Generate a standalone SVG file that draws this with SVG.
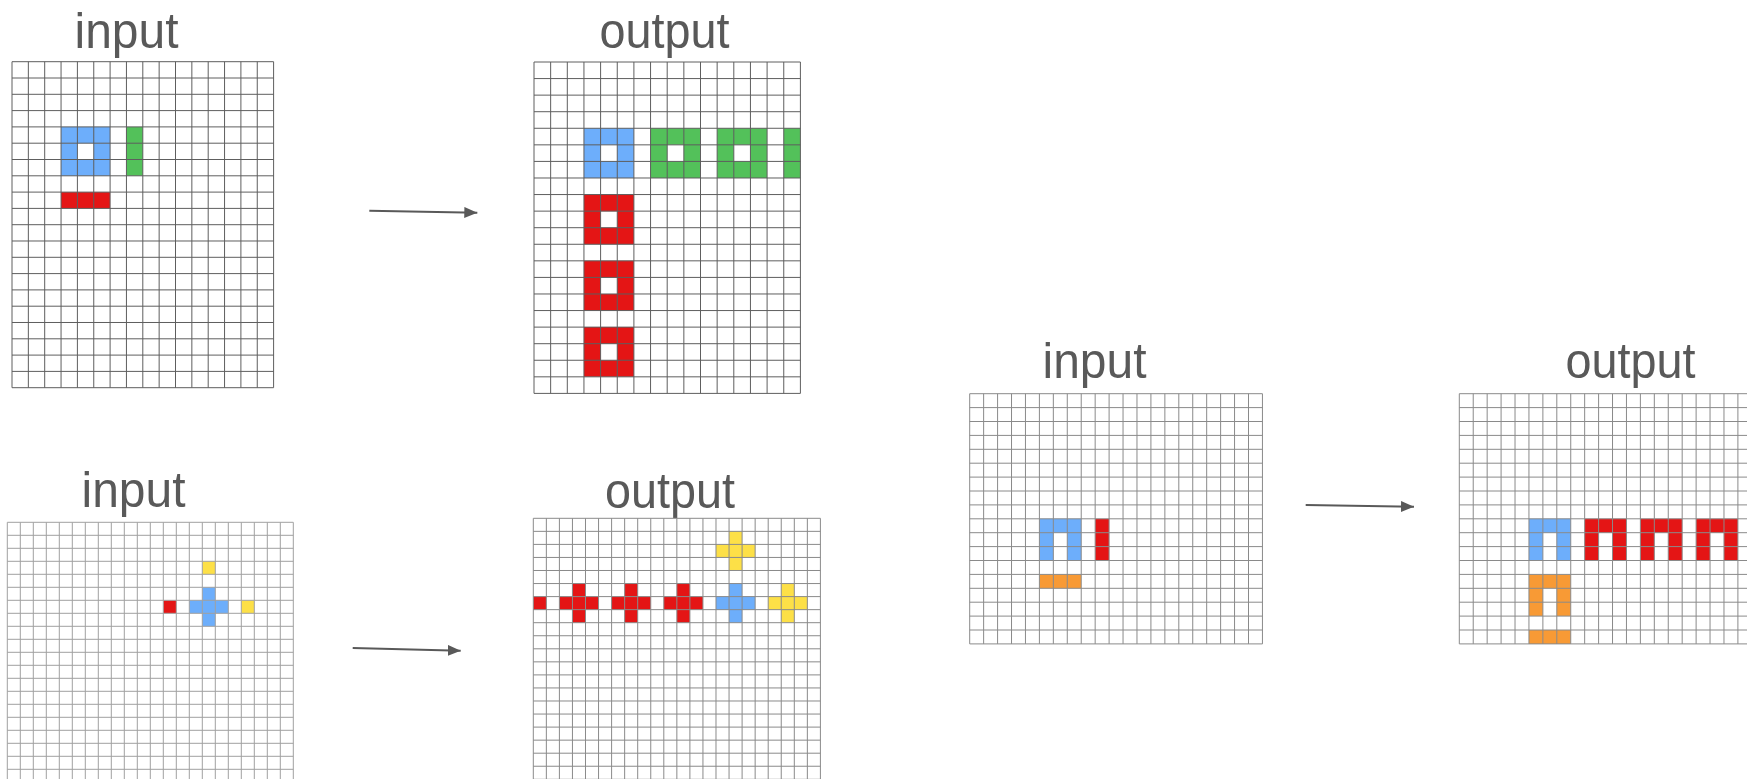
<svg xmlns="http://www.w3.org/2000/svg" xmlns:xlink="http://www.w3.org/1999/xlink" width="1747" height="779" viewBox="0 0 1747 779">
<style>
.bg{fill:#ffffff}
.lbl{font-family:"Liberation Sans",Arial,sans-serif;font-size:50px;fill:#595959}
.gp{fill:none;vector-effect:non-scaling-stroke}
.b{fill:#6daefb}
.g{fill:#53c15a}
.r{fill:#e41515}
.y{fill:#fde047}
.o{fill:#f89a35}
.arr{stroke:#595959;stroke-width:2;fill:none}
</style>
<defs>
<path id="g16x20" class="gp" d="M0 0V20M1 0V20M2 0V20M3 0V20M4 0V20M5 0V20M6 0V20M7 0V20M8 0V20M9 0V20M10 0V20M11 0V20M12 0V20M13 0V20M14 0V20M15 0V20M16 0V20M0 0H16M0 1H16M0 2H16M0 3H16M0 4H16M0 5H16M0 6H16M0 7H16M0 8H16M0 9H16M0 10H16M0 11H16M0 12H16M0 13H16M0 14H16M0 15H16M0 16H16M0 17H16M0 18H16M0 19H16M0 20H16"/>
<path id="g22x22" class="gp" d="M0 0V22M1 0V22M2 0V22M3 0V22M4 0V22M5 0V22M6 0V22M7 0V22M8 0V22M9 0V22M10 0V22M11 0V22M12 0V22M13 0V22M14 0V22M15 0V22M16 0V22M17 0V22M18 0V22M19 0V22M20 0V22M21 0V22M22 0V22M0 0H22M0 1H22M0 2H22M0 3H22M0 4H22M0 5H22M0 6H22M0 7H22M0 8H22M0 9H22M0 10H22M0 11H22M0 12H22M0 13H22M0 14H22M0 15H22M0 16H22M0 17H22M0 18H22M0 19H22M0 20H22M0 21H22M0 22H22"/>
<path id="g21x18" class="gp" d="M0 0V18M1 0V18M2 0V18M3 0V18M4 0V18M5 0V18M6 0V18M7 0V18M8 0V18M9 0V18M10 0V18M11 0V18M12 0V18M13 0V18M14 0V18M15 0V18M16 0V18M17 0V18M18 0V18M19 0V18M20 0V18M21 0V18M0 0H21M0 1H21M0 2H21M0 3H21M0 4H21M0 5H21M0 6H21M0 7H21M0 8H21M0 9H21M0 10H21M0 11H21M0 12H21M0 13H21M0 14H21M0 15H21M0 16H21M0 17H21M0 18H21"/>
<marker id="ah" markerUnits="userSpaceOnUse" markerWidth="15" markerHeight="13" refX="13" refY="5.5" orient="auto">
<path d="M0 0L13 5.5L0 11z" fill="#595959"/>
</marker>
</defs>
<rect width="1747" height="779" fill="#ffffff"/>

<g id="label-input-1"><text class="lbl" x="74.5" y="48" textLength="104" lengthAdjust="spacingAndGlyphs">input</text></g>
<g id="label-output-1"><text class="lbl" x="599.5" y="48" textLength="130" lengthAdjust="spacingAndGlyphs">output</text></g>
<g id="label-input-2"><text class="lbl" x="81.5" y="507" textLength="104" lengthAdjust="spacingAndGlyphs">input</text></g>
<g id="label-output-2"><text class="lbl" x="605" y="508" textLength="130" lengthAdjust="spacingAndGlyphs">output</text></g>
<g id="label-input-3"><text class="lbl" x="1042.5" y="378" textLength="104" lengthAdjust="spacingAndGlyphs">input</text></g>
<g id="label-output-3"><text class="lbl" x="1565.5" y="378" textLength="130" lengthAdjust="spacingAndGlyphs">output</text></g>

<g id="grid-input-1" transform="translate(12,61.7) scale(16.35,16.3)">
<rect class="bg" width="16" height="20"/>
<rect class="b" x="3" y="4" width="3" height="1"/><rect class="b" x="3" y="5" width="1" height="1"/><rect class="b" x="5" y="5" width="1" height="1"/><rect class="b" x="3" y="6" width="3" height="1"/>
<rect class="g" x="7" y="4" width="1" height="3"/>
<rect class="r" x="3" y="8" width="3" height="1"/>
<use xlink:href="#g16x20" stroke="#5e5e5e"/>
</g>

<g id="grid-output-1" transform="translate(534,62) scale(16.65,16.57)">
<rect class="bg" width="16" height="20"/>
<path class="b" fill-rule="evenodd" d="M3 4h3v3h-3zM4 5h1v1h-1z"/>
<path class="g" fill-rule="evenodd" d="M7 4h3v3h-3zM8 5h1v1h-1zM11 4h3v3h-3zM12 5h1v1h-1zM15 4h1v3h-1z"/>
<path class="r" fill-rule="evenodd" d="M3 8h3v3h-3zM4 9h1v1h-1zM3 12h3v3h-3zM4 13h1v1h-1zM3 16h3v3h-3zM4 17h1v1h-1z"/>
<use xlink:href="#g16x20" stroke="#5e5e5e"/>
</g>

<g id="grid-input-2" transform="translate(7.3,522.3) scale(13,13)">
<rect class="bg" width="22" height="22"/>
<rect class="y" x="15" y="3" width="1" height="1"/>
<rect class="b" x="15" y="5" width="1" height="3"/><rect class="b" x="14" y="6" width="3" height="1"/>
<rect class="r" x="12" y="6" width="1" height="1"/>
<rect class="y" x="18" y="6" width="1" height="1"/>
<use xlink:href="#g22x22" stroke="#a0a0a0"/>
</g>

<g id="grid-output-2" transform="translate(533.3,518.3) scale(13.05,13.05)">
<rect class="bg" width="22" height="22"/>
<path class="y" d="M15 1h1v3h-1zM14 2h3v1h-3z"/>
<path class="r" d="M0 6h1v1h-1zM3 5h1v3h-1zM2 6h3v1h-3zM7 5h1v3h-1zM6 6h3v1h-3zM11 5h1v3h-1zM10 6h3v1h-3z"/>
<path class="b" d="M15 5h1v3h-1zM14 6h3v1h-3z"/>
<path class="y" d="M19 5h1v3h-1zM18 6h3v1h-3z"/>
<use xlink:href="#g22x22" stroke="#8a8a8a"/>
</g>

<g id="grid-input-3" transform="translate(969.7,393.7) scale(13.94,13.9)">
<rect class="bg" width="21" height="18"/>
<path class="b" d="M5 9h3v1h-3zM5 10h1v2h-1zM7 10h1v2h-1z"/>
<rect class="r" x="9" y="9" width="1" height="3"/>
<rect class="o" x="5" y="13" width="3" height="1"/>
<use xlink:href="#g21x18" stroke="#8a8a8a"/>
</g>

<g id="grid-output-3" transform="translate(1459.3,393.7) scale(13.93,13.9)">
<rect class="bg" width="21" height="18"/>
<path class="b" d="M5 9h3v1h-3zM5 10h1v2h-1zM7 10h1v2h-1z"/>
<path class="r" d="M9 9h3v1h-3zM9 10h1v2h-1zM11 10h1v2h-1zM13 9h3v1h-3zM13 10h1v2h-1zM15 10h1v2h-1zM17 9h3v1h-3zM17 10h1v2h-1zM19 10h1v2h-1z"/>
<path class="o" d="M5 13h3v1h-3zM5 14h1v2h-1zM7 14h1v2h-1zM5 17h3v1h-3z"/>
<use xlink:href="#g21x18" stroke="#8a8a8a"/>
</g>

<g id="connectors">
<line class="arr" x1="369.3" y1="210.7" x2="477.3" y2="212.7" marker-end="url(#ah)"/>
<line class="arr" x1="352.7" y1="648" x2="460.7" y2="650.7" marker-end="url(#ah)"/>
<line class="arr" x1="1305.7" y1="505" x2="1414" y2="506.7" marker-end="url(#ah)"/>
</g>
</svg>
